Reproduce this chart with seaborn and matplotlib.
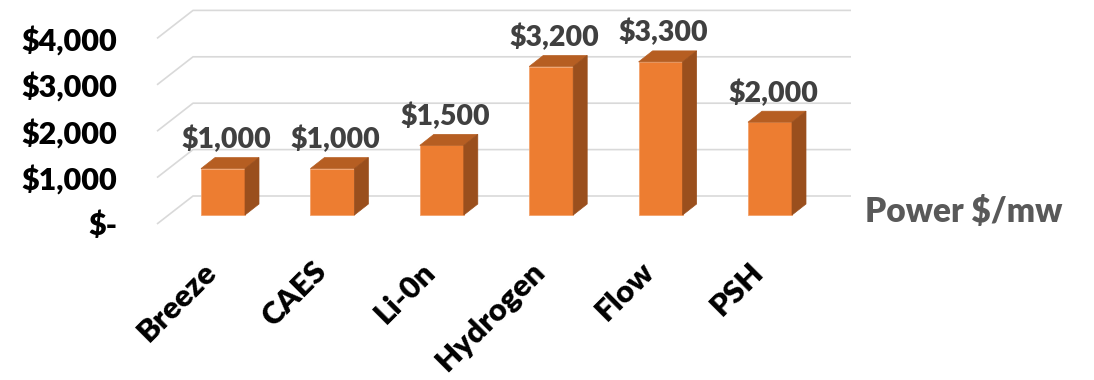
import matplotlib
matplotlib.use("Agg")
import matplotlib.pyplot as plt
from matplotlib.patches import Polygon
import seaborn as sns

# Storage technology power costs
technologies = ["Breeze", "CAES", "Li-0n", "Hydrogen", "Flow", "PSH"]
power_cost = [1000, 1000, 1500, 3200, 3300, 2000]
tick_values = [0, 1000, 2000, 3000, 4000]
tick_labels = ["$-", "$1,000", "$2,000", "$3,000", "$4,000"]
series_label = "Power $/mw"

sns.set_style("white")
plt.rcParams["font.family"] = ["Lato", "DejaVu Sans"]

W, H, DPI = 1094, 380, 100
fig = plt.figure(figsize=(W / DPI, H / DPI), dpi=DPI)
ax = fig.add_axes([0, 0, 1, 1])

# pixel geometry of the category/value axes
PX_CAT = 109.4      # pixels between categories
PX_VAL = 0.0464     # pixels per dollar
X0_PX = 223         # pixel x of first category centre
BASE_PX = 165       # pixel height of the zero line (from bottom)

def px_x(p):
    return p / PX_CAT

def px_y(p):
    return p / PX_VAL

FRONT = "#ED7D31"
TOP = "#B65E22"
SIDE = "#9A4F1D"
GRID = "#D9D9D9"
WEIGHT = "heavy"

bar_w = 44 / PX_CAT
sns.barplot(x=technologies, y=power_cost, color=FRONT, saturation=1,
            width=bar_w, edgecolor="#F3A26B", linewidth=0.6, ax=ax, zorder=3)

# extrude each bar into a box
dx, dy = px_x(14), px_y(11)
for p in list(ax.patches):
    x0, w, h = p.get_x(), p.get_width(), p.get_height()
    top = Polygon([(x0, h), (x0 + w, h), (x0 + w + dx, h + dy), (x0 + dx, h + dy)],
                  closed=True, facecolor=TOP, edgecolor=TOP, lw=0.5, zorder=3)
    side = Polygon([(x0 + w, 0), (x0 + w + dx, dy), (x0 + w + dx, h + dy), (x0 + w, h)],
                   closed=True, facecolor=SIDE, edgecolor=SIDE, lw=0.5, zorder=3)
    ax.add_patch(top)
    ax.add_patch(side)

# back wall and floor gridlines
wall_x0, wall_x1 = px_x(193 - X0_PX), px_x(851 - X0_PX)
front_x = px_x(157 - X0_PX)
wall_dy, front_dy = px_y(19), px_y(-9)
for v in tick_values:
    ax.plot([front_x, wall_x0, wall_x1], [v + front_dy, v + wall_dy, v + wall_dy],
            color=GRID, lw=1.2, zorder=1, solid_capstyle="butt")

# value axis labels
for v, lab in zip(tick_values, tick_labels):
    ax.text(px_x(117 - X0_PX), v + front_dy - px_y(2), lab, ha="right", va="center",
            fontsize=22, fontweight=WEIGHT, color="black")

# data labels
for i, v in enumerate(power_cost):
    ax.text(i + px_x(3), v + px_y(29), f"${v:,.0f}", ha="center", va="center",
            fontsize=20.5, fontweight=WEIGHT, color="#404040", zorder=4)

# category labels
label_y = px_y((H - 257) - BASE_PX)
for i, lab in enumerate(technologies):
    ax.text(i - px_x(1), label_y, lab, rotation=45, ha="right", va="top",
            fontsize=22.5, fontweight=WEIGHT, color="black")

# series name
ax.text(px_x(865 - X0_PX), px_y((H - 212) - BASE_PX), series_label, ha="left", va="center",
        fontsize=24, fontweight=WEIGHT, color="#595959")

ax.set_xlim(px_x(-X0_PX), px_x(W - X0_PX))
ax.set_ylim(px_y(-BASE_PX), px_y(H - BASE_PX))
ax.axis("off")

fig.savefig("out.png", dpi=DPI)
